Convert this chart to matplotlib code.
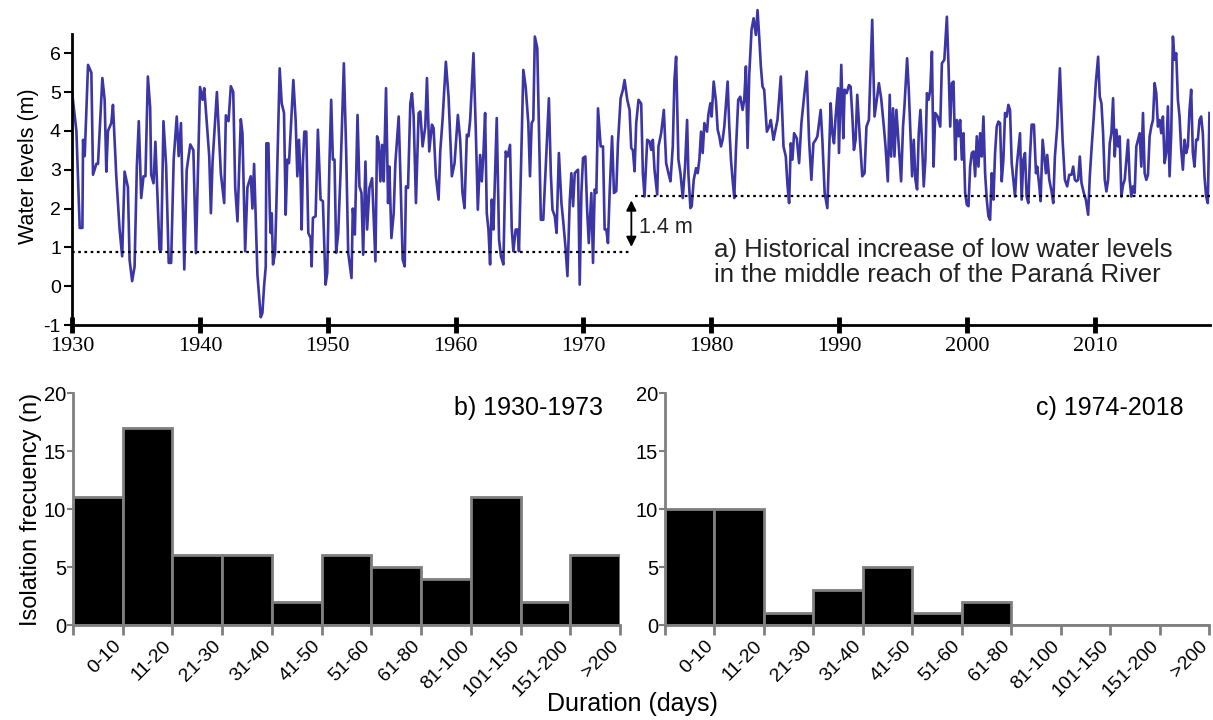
import numpy as np
import matplotlib
matplotlib.use('Agg')
from matplotlib import pyplot as plt

# water levels (decimal year, metres)
years = [
    1930.00, 1930.34, 1930.60, 1930.81, 1930.86, 1930.99, 1931.25, 1931.51, 1931.64, 1931.90,
    1932.03, 1932.37, 1932.55, 1932.68, 1932.81, 1933.07, 1933.20, 1933.46, 1933.72, 1933.92,
    1934.11, 1934.37, 1934.50, 1934.70, 1934.89, 1935.07, 1935.22, 1935.41, 1935.59, 1935.74,
    1935.93, 1936.11, 1936.19, 1936.37, 1936.52, 1936.84, 1936.97, 1937.15, 1937.36, 1937.56,
    1937.75, 1937.95, 1938.19, 1938.34, 1938.52, 1938.78, 1938.97, 1939.25, 1939.49, 1939.69,
    1940.01, 1940.21, 1940.34, 1940.73, 1940.86, 1940.99, 1941.33, 1941.64, 1941.90, 1942.03,
    1942.24, 1942.42, 1942.61, 1942.76, 1942.94, 1943.20, 1943.33, 1943.54, 1943.72, 1943.98,
    1944.11, 1944.24, 1944.50, 1944.76, 1944.89, 1945.02, 1945.15, 1945.20, 1945.36, 1945.47,
    1945.54, 1945.62, 1945.72, 1945.88, 1945.98, 1946.24, 1946.40, 1946.58, 1946.71, 1946.84,
    1946.97, 1947.31, 1947.49, 1947.62, 1947.75, 1947.88, 1947.96, 1948.06, 1948.17, 1948.32,
    1948.48, 1948.66, 1948.74, 1948.84, 1949.05, 1949.23, 1949.44, 1949.62, 1949.83, 1949.96,
    1950.14, 1950.27, 1950.40, 1950.53, 1950.66, 1950.82, 1951.00, 1951.26, 1951.44, 1951.60,
    1951.86, 1951.96, 1952.12, 1952.33, 1952.48, 1952.64, 1952.77, 1952.95, 1953.08, 1953.26,
    1953.47, 1953.73, 1953.86, 1953.99, 1954.12, 1954.25, 1954.38, 1954.56, 1954.72, 1954.82,
    1954.98, 1955.16, 1955.29, 1955.55, 1955.68, 1955.86, 1956.02, 1956.12, 1956.28, 1956.46,
    1956.59, 1956.72, 1956.90, 1957.11, 1957.24, 1957.42, 1957.63, 1957.76, 1957.94, 1958.15,
    1958.28, 1958.46, 1958.67, 1958.80, 1958.98, 1959.24, 1959.45, 1959.71, 1959.92, 1960.18,
    1960.36, 1960.54, 1960.70, 1960.88, 1961.01, 1961.14, 1961.40, 1961.58, 1961.74, 1961.92,
    1962.05, 1962.18, 1962.31, 1962.44, 1962.57, 1962.70, 1962.83, 1962.96, 1963.22, 1963.40,
    1963.55, 1963.74, 1963.92, 1964.07, 1964.26, 1964.39, 1964.52, 1964.70, 1964.85, 1964.96,
    1965.17, 1965.30, 1965.48, 1965.69, 1965.82, 1965.95, 1966.08, 1966.20, 1966.39, 1966.52,
    1966.67, 1966.86, 1967.04, 1967.30, 1967.45, 1967.58, 1967.76, 1967.90, 1968.08, 1968.28,
    1968.41, 1968.60, 1968.75, 1968.93, 1969.06, 1969.19, 1969.32, 1969.45, 1969.58, 1969.71,
    1969.84, 1969.97, 1970.15, 1970.29, 1970.42, 1970.62, 1970.75, 1970.88, 1971.01, 1971.14,
    1971.35, 1971.53, 1971.66, 1971.79, 1971.92, 1972.05, 1972.24, 1972.39, 1972.57, 1972.70,
    1972.91, 1973.09, 1973.22, 1973.43, 1973.61, 1973.74, 1973.87, 1974.00, 1974.13, 1974.31,
    1974.52, 1974.65, 1974.78, 1974.99, 1975.17, 1975.30, 1975.43, 1975.56, 1975.77, 1975.87,
    1976.08, 1976.29, 1976.47, 1976.65, 1976.81, 1976.99, 1977.12, 1977.25, 1977.43, 1977.59,
    1977.77, 1977.95, 1978.11, 1978.21, 1978.37, 1978.47, 1978.63, 1978.81, 1978.94, 1979.07,
    1979.20, 1979.33, 1979.46, 1979.67, 1979.77, 1979.93, 1980.03, 1980.19, 1980.37, 1980.50,
    1980.63, 1980.76, 1980.89, 1981.02, 1981.28, 1981.41, 1981.54, 1981.67, 1981.80, 1981.93,
    1982.11, 1982.27, 1982.45, 1982.58, 1982.71, 1982.84, 1982.97, 1983.15, 1983.31, 1983.49,
    1983.62, 1983.75, 1983.88, 1984.01, 1984.14, 1984.35, 1984.53, 1984.66, 1984.87, 1984.97,
    1985.18, 1985.44, 1985.65, 1985.83, 1985.96, 1986.09, 1986.22, 1986.35, 1986.48, 1986.69,
    1986.87, 1987.05, 1987.26, 1987.47, 1987.65, 1987.83, 1987.99, 1988.17, 1988.30, 1988.56,
    1988.69, 1988.87, 1989.08, 1989.34, 1989.47, 1989.60, 1989.73, 1989.91, 1989.99, 1990.17,
    1990.33, 1990.43, 1990.59, 1990.77, 1990.90, 1991.03, 1991.16, 1991.29, 1991.42, 1991.63,
    1991.81, 1991.99, 1992.14, 1992.33, 1992.59, 1992.77, 1992.98, 1993.11, 1993.29, 1993.50,
    1993.63, 1993.81, 1993.96, 1994.07, 1994.22, 1994.33, 1994.48, 1994.67, 1994.85, 1995.00,
    1995.11, 1995.32, 1995.45, 1995.58, 1995.71, 1995.84, 1995.97, 1996.10, 1996.23, 1996.36,
    1996.49, 1996.62, 1996.75, 1996.87, 1997.00, 1997.13, 1997.26, 1997.39, 1997.52, 1997.71,
    1997.91, 1998.04, 1998.23, 1998.43, 1998.56, 1998.69, 1998.82, 1998.95, 1999.08, 1999.21,
    1999.34, 1999.47, 1999.60, 1999.73, 1999.86, 1999.99, 2000.12, 2000.25, 2000.38, 2000.51,
    2000.64, 2000.77, 2000.90, 2001.03, 2001.16, 2001.29, 2001.42, 2001.55, 2001.68, 2001.81,
    2001.94, 2002.07, 2002.20, 2002.33, 2002.46, 2002.59, 2002.72, 2002.85, 2002.98, 2003.11,
    2003.24, 2003.37, 2003.50, 2003.63, 2003.76, 2003.89, 2004.15, 2004.28, 2004.41, 2004.54,
    2004.67, 2004.80, 2004.93, 2005.06, 2005.24, 2005.40, 2005.50, 2005.66, 2005.76, 2005.92,
    2006.02, 2006.18, 2006.28, 2006.44, 2006.62, 2006.75, 2006.88, 2007.06, 2007.27, 2007.48,
    2007.66, 2007.84, 2008.00, 2008.18, 2008.31, 2008.44, 2008.57, 2008.70, 2008.83, 2008.96,
    2009.14, 2009.30, 2009.48, 2009.61, 2009.74, 2009.92, 2010.08, 2010.26, 2010.39, 2010.52,
    2010.65, 2010.78, 2010.91, 2011.04, 2011.17, 2011.30, 2011.43, 2011.56, 2011.69, 2011.82,
    2011.95, 2012.08, 2012.21, 2012.34, 2012.47, 2012.60, 2012.73, 2012.86, 2012.99, 2013.12,
    2013.25, 2013.38, 2013.51, 2013.64, 2013.77, 2013.90, 2014.03, 2014.16, 2014.29, 2014.42,
    2014.55, 2014.68, 2014.81, 2014.94, 2015.07, 2015.20, 2015.33, 2015.46, 2015.59, 2015.72,
    2015.85, 2015.98, 2016.11, 2016.24, 2016.37, 2016.50, 2016.63, 2016.76, 2016.89, 2017.02,
    2017.15, 2017.28, 2017.41, 2017.54, 2017.67, 2017.80, 2017.93, 2018.06, 2018.19, 2018.32,
    2018.45, 2018.58, 2018.71, 2018.84, 2018.97,
]
levels = [
    5.00, 4.00, 1.50, 1.50, 3.77, 3.35, 5.70, 5.50, 2.87, 3.15,
    3.15, 5.36, 4.80, 2.95, 4.00, 4.20, 4.67, 2.83, 1.46, 0.77,
    2.95, 2.55, 0.68, 0.13, 0.50, 3.10, 4.25, 2.27, 2.83, 2.83,
    5.40, 4.60, 2.87, 2.65, 3.72, 0.94, 0.94, 4.25, 3.10, 0.60,
    0.60, 3.27, 4.37, 3.35, 4.20, 0.43, 3.00, 3.65, 3.50, 0.85,
    5.13, 4.80, 5.10, 3.35, 1.88, 3.20, 5.00, 2.90, 2.14, 4.40,
    4.25, 5.15, 5.00, 2.55, 1.67, 4.30, 3.94, 0.90, 2.55, 2.83,
    2.00, 3.15, 0.30, -0.80, -0.69, 0.00, 0.50, 3.68, 3.68, 1.88,
    1.37, 1.88, 0.56, 0.86, 2.05, 5.61, 4.71, 4.46, 1.84, 3.26,
    3.17, 5.31, 4.28, 2.83, 3.77, 2.74, 1.46, 3.17, 3.98, 3.98,
    1.37, 1.24, 0.51, 1.76, 1.80, 4.03, 2.23, 2.19, 0.04, 0.34,
    3.26, 4.80, 3.26, 3.26, 0.86, 1.37, 2.91, 5.74, 3.51, 0.86,
    0.21, 2.00, 1.33, 4.41, 2.57, 2.40, 0.81, 3.21, 1.46, 2.53,
    2.78, 0.64, 3.86, 3.68, 2.70, 3.64, 2.70, 5.10, 2.14, 3.08,
    1.24, 1.88, 3.17, 4.37, 2.91, 0.69, 0.51, 2.57, 2.53, 4.71,
    4.97, 4.37, 2.14, 4.46, 4.50, 3.60, 4.11, 5.36, 3.47, 4.16,
    4.07, 2.83, 2.23, 3.47, 4.28, 5.78, 4.88, 2.83, 3.17, 4.41,
    3.77, 2.40, 2.01, 3.90, 3.86, 4.28, 6.00, 4.03, 1.97, 3.38,
    2.70, 3.43, 4.46, 1.88, 1.46, 0.56, 2.23, 1.46, 4.33, 1.20,
    0.77, 0.56, 3.47, 3.34, 3.64, 1.50, 0.90, 1.46, 1.46, 0.90,
    3.77, 5.57, 5.14, 4.20, 2.83, 4.20, 4.28, 6.43, 6.13, 4.11,
    1.71, 1.71, 3.00, 4.84, 2.91, 1.97, 1.80, 1.37, 3.43, 2.14,
    1.71, 0.99, 0.26, 2.19, 2.91, 2.06, 2.91, 2.96, 3.00, 0.04,
    2.40, 3.30, 3.34, 1.97, 1.11, 2.40, 0.60, 2.49, 2.40, 4.58,
    3.60, 3.60, 1.46, 1.46, 1.11, 2.40, 3.86, 2.40, 2.45, 3.68,
    4.84, 5.06, 5.31, 4.80, 4.54, 3.56, 3.50, 2.96, 4.20, 4.80,
    4.70, 2.91, 2.31, 3.77, 3.73, 3.51, 3.77, 3.00, 2.36, 3.60,
    3.94, 4.54, 3.17, 2.91, 2.70, 3.60, 5.31, 5.91, 3.26, 2.91,
    2.27, 3.08, 4.28, 2.91, 2.01, 2.06, 2.74, 3.04, 2.91, 3.26,
    3.98, 3.43, 4.20, 3.98, 4.41, 4.71, 4.37, 5.27, 4.76, 4.03,
    3.86, 3.60, 3.77, 4.11, 5.27, 4.11, 3.26, 2.74, 2.27, 3.51,
    4.80, 4.88, 4.54, 4.80, 5.66, 3.56, 5.44, 6.60, 6.90, 6.47,
    7.11, 6.43, 5.66, 5.14, 5.06, 3.98, 4.11, 4.28, 3.77, 3.94,
    4.28, 5.40, 3.60, 3.34, 2.61, 2.14, 3.68, 3.26, 3.94, 3.81,
    3.17, 4.20, 4.88, 5.53, 3.77, 2.74, 3.68, 3.77, 3.86, 4.54,
    3.77, 2.40, 2.01, 4.71, 3.94, 3.68, 4.37, 5.10, 3.43, 5.70,
    3.81, 5.06, 4.97, 5.18, 5.14, 4.41, 3.51, 3.77, 4.93, 3.77,
    2.83, 2.91, 4.11, 4.28, 6.86, 4.37, 4.88, 5.23, 4.84, 4.11,
    3.60, 2.70, 4.93, 3.34, 4.58, 3.34, 4.54, 3.60, 2.70, 4.11,
    4.63, 5.87, 5.06, 3.94, 2.83, 3.77, 2.74, 2.49, 3.94, 4.54,
    3.68, 2.57, 3.26, 4.97, 4.80, 5.06, 6.04, 3.08, 4.46, 4.37,
    4.11, 5.74, 5.83, 6.94, 5.66, 4.11, 5.23, 5.27, 3.26, 4.28,
    3.86, 4.28, 3.26, 3.94, 2.40, 2.10, 2.06, 3.08, 3.43, 3.47,
    2.83, 3.86, 3.08, 3.94, 3.34, 4.37, 2.91, 2.23, 1.80, 1.71,
    2.91, 2.23, 3.43, 4.11, 4.24, 4.20, 2.70, 3.26, 4.46, 4.37,
    4.67, 4.54, 3.17, 2.74, 2.31, 3.08, 3.94, 2.23, 3.26, 3.43,
    2.31, 2.14, 3.34, 4.16, 4.16, 2.91, 3.08, 2.57, 2.19, 3.77,
    3.43, 2.91, 3.38, 2.74, 2.44, 2.14, 3.34, 4.11, 5.61, 3.77,
    2.74, 2.57, 2.87, 2.87, 3.08, 2.74, 2.70, 2.74, 3.34, 2.66,
    2.40, 2.23, 1.84, 2.83, 3.51, 4.37, 5.23, 5.91, 4.88, 4.71,
    3.94, 2.74, 2.44, 2.74, 3.68, 3.94, 4.84, 3.34, 4.03, 3.60,
    3.86, 2.31, 2.61, 2.74, 3.26, 3.77, 2.74, 2.31, 2.57, 2.40,
    3.60, 3.77, 3.94, 3.08, 4.46, 2.91, 2.74, 2.87, 3.86, 4.11,
    4.28, 5.23, 4.97, 4.11, 4.28, 3.94, 4.37, 3.17, 3.43, 4.63,
    2.83, 3.94, 6.43, 5.83, 6.00, 4.80, 4.37, 3.51, 3.00, 3.77,
    3.43, 3.60, 4.54, 5.06, 3.43, 3.08, 3.77, 3.77, 4.28, 4.37,
    3.94, 2.83, 2.31, 2.14, 4.46,
]

low_before = 0.89
low_after = 2.33
split_year = 1973.75

durations = ['0-10', '11-20', '21-30', '31-40', '41-50', '51-60', '61-80',
             '81-100', '101-150', '151-200', '>200']
freq_1930_1973 = [11, 17, 6, 6, 2, 6, 5, 4, 11, 2, 6]
freq_1974_2018 = [10, 10, 1, 3, 5, 1, 2, 0, 0, 0, 0]

plt.rcParams['font.family'] = ['Liberation Sans', 'DejaVu Sans']
plt.rcParams['axes.unicode_minus'] = False
fig = plt.figure(figsize=(12.13, 7.2), dpi=100)

# ---- panel a
ax = fig.add_axes([0.0594, 0.5486, 0.938, 0.4422])
ax.plot(years, levels, color='#3b35a6', lw=1.9, solid_joinstyle='round')
ax.plot([1930, split_year], [low_before, low_before], ls=(0, (1.2, 1.6)), color='black', lw=1.6)
ax.plot([split_year + 0.3, 2019], [low_after, low_after], ls=(0, (1.2, 1.6)), color='black', lw=1.6)
ax.annotate('', xy=(split_year, low_after - 0.05), xytext=(split_year, low_before + 0.05),
            arrowprops=dict(arrowstyle='<|-|>', color='black', lw=1.3, mutation_scale=15))
ax.text(split_year + 0.6, 1.5, '1.4 m', fontsize=15.5, va='center', color='#222222')
ax.text(1980.2, 0.61, 'a) Historical increase of low water levels\nin the middle reach of the Paraná River',
        fontsize=18.5, va='center', color='#222222', linespacing=1.1)
ax.set_xlim(1930, 2019)
ax.set_ylim(-1, 7.2)
ax.spines['top'].set_visible(False)
ax.spines['right'].set_visible(False)
ax.spines['left'].set_bounds(-1, 6.5)
ax.spines['left'].set_linewidth(2)
ax.spines['bottom'].set_linewidth(2)
ax.set_yticks(range(-1, 7))
ax.set_xticks(range(1930, 2011, 10))
ax.tick_params(axis='y', direction='out', length=6, width=1.5, labelsize=14, pad=2)
ax.tick_params(axis='x', direction='inout', length=11, width=3.5, labelsize=16, pad=3)
for lab in ax.get_xticklabels():
    lab.set_fontfamily('Liberation Serif')
ax.set_ylabel('Water levels (m)', fontsize=15.5, labelpad=3)

# ---- panels b and c
def hist_panel(rect, values, title, title_x):
    axh = fig.add_axes(rect)
    pos = np.arange(len(durations))
    axh.bar(pos, values, width=1.0, color='black', edgecolor='#7f7f7f', lw=2)
    axh.set_xlim(-0.5, len(durations) - 0.5)
    axh.set_ylim(0, 20)
    axh.set_yticks([0, 5, 10, 15, 20])
    # labels sit a bit right of the bar centre, as in the original
    axh.set_xticks(pos + 0.3)
    axh.set_xticklabels(durations, rotation=45, ha='right', rotation_mode='anchor')
    axh.set_xticks(np.arange(-0.5, len(durations)), minor=True)
    axh.tick_params(axis='x', which='major', length=0, labelsize=14, pad=9)
    axh.tick_params(axis='x', which='minor', length=7, width=2, color='#7f7f7f', direction='out')
    axh.tick_params(axis='y', length=4, width=1.5, color='#7f7f7f', labelsize=14.5, pad=1)
    for side in ('top', 'right'):
        axh.spines[side].set_visible(False)
    for side in ('left', 'bottom'):
        axh.spines[side].set_color('#7f7f7f')
        axh.spines[side].set_linewidth(2)
    axh.text(title_x, 0.935, title, transform=axh.transAxes, ha='right', va='center', fontsize=18)
    return axh

axb = hist_panel([0.0602, 0.1319, 0.451, 0.3222], freq_1930_1973, 'b) 1930-1973', 0.969)
axb.set_ylabel('Isolation frecuency (n)', fontsize=17, labelpad=1)
axc = hist_panel([0.5482, 0.1319, 0.4485, 0.3222], freq_1974_2018, 'c) 1974-2018', 0.954)
fig.text(0.521, 0.022, 'Duration (days)', ha='center', va='center', fontsize=18)

fig.savefig('out.png', dpi=100)
